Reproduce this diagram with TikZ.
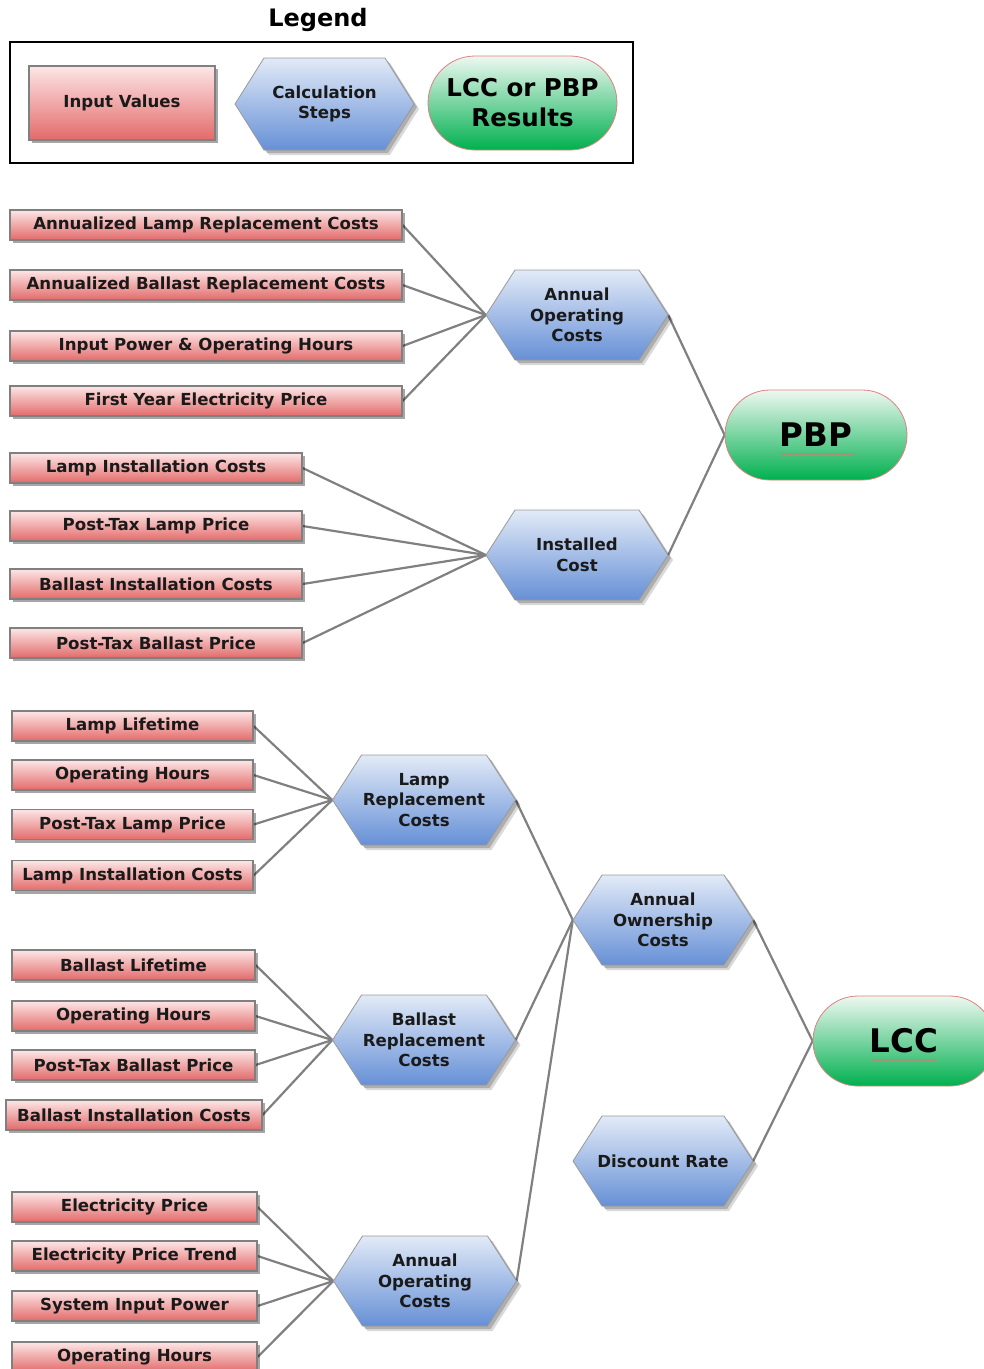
\documentclass[tikz,border=0pt]{standalone}
\usepackage{fontspec}
\setmainfont{DejaVu Sans}
\usetikzlibrary{shadows,backgrounds,decorations.pathmorphing}
\definecolor{redTop}{HTML}{FDE6E6}
\definecolor{redBot}{HTML}{E36A6A}
\definecolor{hexTop}{HTML}{E2EAF7}
\definecolor{hexBot}{HTML}{6690D6}
\definecolor{grnTop}{HTML}{EEF8F1}
\definecolor{grnBot}{HTML}{00B04F}
\definecolor{edgeGray}{HTML}{808080}
\definecolor{txt}{HTML}{1A1A1A}
\definecolor{grnEdge}{HTML}{E08080}
\newcommand\hexpath[2]{(-#1,0) -- (-#1+29,-#2) -- (#1-29,-#2) -- (#1,0) -- (#1-29,#2) -- (-#1+29,#2) -- cycle}
\newcommand\hexa[6]{%
  \begin{scope}[shift={(#2,#3)}]
    \fill[black,opacity=.15] [shift={(5,5)}] \hexpath{#4}{#5};
    \fill[black,opacity=.2] [shift={(3,3)}] \hexpath{#4}{#5};
    \shade[top color=hexTop,bottom color=hexBot,draw=edgeGray!80,line width=.8pt] \hexpath{#4}{#5};
  \end{scope}
  \node[calcnode,minimum width={2*#4pt},minimum height={2*#5pt}] (#1) at (#2,#3) {#6};
}
\tikzset{
  inbox/.style={rectangle,draw=edgeGray,line width=1.2pt,top color=redTop,bottom color=redBot,
    minimum height=30pt,inner sep=0pt,text=txt,
    font=\fontsize{16.6}{20}\selectfont\bfseries,
    drop shadow={shadow xshift=3pt,shadow yshift=-3pt,opacity=.35,fill=black}},
  calcnode/.style={rectangle,inner sep=0pt,align=center,text=txt,
    font=\fontsize{16.6}{20.5}\selectfont\bfseries},
  result/.style={rectangle,rounded corners=45pt,minimum width=182pt,minimum height=90pt,
    draw=grnEdge,line width=.8pt,top color=grnTop,bottom color=grnBot,inner sep=0pt,
    font=\fontsize{32.5}{36}\selectfont\bfseries,text=black},
  conn/.style={draw=edgeGray,line width=2.2pt},
  squiggle/.style={draw=red!60,line width=.5pt,decorate,decoration={snake,amplitude=.7pt,segment length=3pt}}
}
\begin{document}
\begin{tikzpicture}[x=1pt,y=-1pt]
\clip (0,0) rectangle (984,1369);

% Legend
\node[font=\fontsize{24}{28}\selectfont\bfseries,text=black] (legtitle) at (318,20) {Legend};
\draw[black,line width=2.5pt] (10,42) rectangle (633,163);
\node[inbox,minimum width=186pt,minimum height=74pt] (leginput) at (122,103) {Input Values};
\hexa{legcalc}{324.5}{104}{89.5}{46}{Calculation\\Steps}
\node[result,rounded corners=47pt,minimum width=189pt,minimum height=94pt,align=center,
  font=\fontsize{24.5}{30}\selectfont\bfseries] (legres) at (522.5,103) {LCC or PBP\\Results};

% PBP section
\node[inbox,minimum width=392pt] (a1) at (206,225) {Annualized Lamp Replacement Costs};
\node[inbox,minimum width=392pt] (a2) at (206,285) {Annualized Ballast Replacement Costs};
\node[inbox,minimum width=392pt] (a3) at (206,346) {Input Power \& Operating Hours};
\node[inbox,minimum width=392pt] (a4) at (206,401) {First Year Electricity Price};
\hexa{aoc1}{577}{315}{91}{45}{Annual\\Operating\\Costs}

\node[inbox,minimum width=292pt] (b1) at (156,468) {Lamp Installation Costs};
\node[inbox,minimum width=292pt] (b2) at (156,526) {Post-Tax Lamp Price};
\node[inbox,minimum width=292pt] (b3) at (156,584) {Ballast Installation Costs};
\node[inbox,minimum width=292pt] (b4) at (156,643) {Post-Tax Ballast Price};
\hexa{ic}{577}{555}{91}{45}{Installed\\Cost}

\node[result] (pbp) at (816,435) {PBP};
\draw[squiggle] ([xshift=-36pt,yshift=-19pt]pbp.center) -- ([xshift=37pt,yshift=-19pt]pbp.center);

% LCC section
\node[inbox,minimum width=241pt] (c1) at (132.5,726) {Lamp Lifetime};
\node[inbox,minimum width=241pt] (c2) at (132.5,775) {Operating Hours};
\node[inbox,minimum width=241pt] (c3) at (132.5,824.5) {Post-Tax Lamp Price};
\node[inbox,minimum width=241pt] (c4) at (132.5,875.5) {Lamp Installation Costs};
\hexa{lrc}{424}{800}{91.5}{45}{Lamp\\Replacement\\Costs}

\node[inbox,minimum width=243pt] (d1) at (133.5,965) {Ballast Lifetime};
\node[inbox,minimum width=243pt] (d2) at (133.5,1016) {Operating Hours};
\node[inbox,minimum width=243pt] (d3) at (133.5,1065) {Post-Tax Ballast Price};
\node[inbox,minimum width=256pt] (d4) at (134,1115) {Ballast Installation Costs};
\hexa{brc}{424}{1040}{91.5}{45}{Ballast\\Replacement\\Costs}

\node[inbox,minimum width=245pt] (e1) at (134.5,1207) {Electricity Price};
\node[inbox,minimum width=245pt] (e2) at (134.5,1256) {Electricity Price Trend};
\node[inbox,minimum width=245pt] (e3) at (134.5,1306) {System Input Power};
\node[inbox,minimum width=245pt] (e4) at (134.5,1357) {Operating Hours};
\hexa{aoc2}{425}{1281}{91.5}{45}{Annual\\Operating\\Costs}

\hexa{aown}{663}{920}{90}{45}{Annual\\Ownership\\Costs}
\hexa{disc}{663}{1161}{90}{45}{Discount Rate}

\node[result] (lcc) at (904,1041) {LCC};
\draw[squiggle] ([xshift=-34pt,yshift=-19pt]lcc.center) -- ([xshift=34pt,yshift=-19pt]lcc.center);

% Connectors
\begin{scope}[on background layer]
\foreach \n in {a1,a2,a3,a4} \draw[conn] (\n.east) -- (aoc1.west);
\foreach \n in {b1,b2,b3,b4} \draw[conn] (\n.east) -- (ic.west);
\draw[conn] (aoc1.east) -- (pbp.west);
\draw[conn] (ic.east) -- (pbp.west);
\foreach \n in {c1,c2,c3,c4} \draw[conn] (\n.east) -- (lrc.west);
\foreach \n in {d1,d2,d3,d4} \draw[conn] (\n.east) -- (brc.west);
\foreach \n in {e1,e2,e3,e4} \draw[conn] (\n.east) -- (aoc2.west);
\draw[conn] (lrc.east) -- (aown.west);
\draw[conn] (brc.east) -- (aown.west);
\draw[conn] (aoc2.east) -- (aown.west);
\draw[conn] (aown.east) -- (lcc.west);
\draw[conn] (disc.east) -- (lcc.west);
\end{scope}
\end{tikzpicture}
\end{document}
